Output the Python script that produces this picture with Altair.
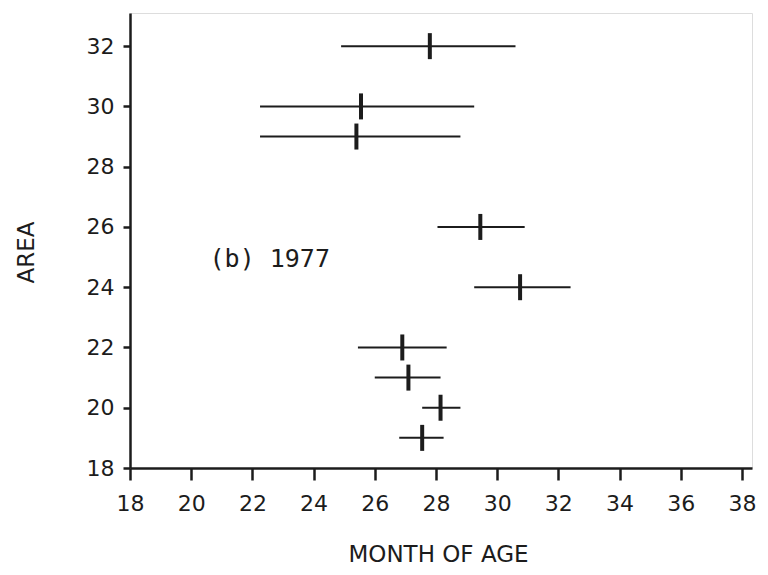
import altair as alt
import pandas as pd

area = [32, 30, 29, 26, 24, 22, 21, 20, 19]
mean_month = [27.8, 25.55, 25.4, 29.45, 30.75, 26.9, 27.1, 28.15, 27.55]
low_month = [24.9, 22.25, 22.25, 28.05, 29.25, 25.45, 26.0, 27.55, 26.8]
high_month = [30.6, 29.25, 28.8, 30.9, 32.4, 28.35, 28.15, 28.8, 28.25]

x_ticks = list(range(18, 39))
y_ticks = list(range(18, 33, 2))

df = pd.DataFrame({"area": area, "mean": mean_month, "low": low_month, "high": high_month})
ann = pd.DataFrame({"x": [20.6], "y": [24.95], "t": ["(b) 1977"]})

INK = "#1c1c1c"
FONT = "DejaVu Sans"

xscale = alt.Scale(domain=[18, 38.33], nice=False, zero=False)
yscale = alt.Scale(domain=[18, 33.1], nice=False, zero=False)

xaxis = alt.Axis(
    title="MONTH OF AGE", values=x_ticks, grid=False,
    labelExpr="datum.value % 2 == 0 ? datum.label : ''",
    tickSize=12, tickWidth=2.5, tickColor=INK, domainColor=INK, domainWidth=2.5,
    labelFont=FONT, labelFontSize=22, labelColor=INK, labelPadding=13,
    labelFlush=False, labelOverlap=False,
    titleFont=FONT, titleFontSize=23, titleFontWeight="normal", titleColor=INK,
    titleBaseline="middle", titleY=86, titleX=308, titleAnchor="middle",
)
yaxis = alt.Axis(
    title="AREA", values=y_ticks, grid=False,
    tickSize=7, tickWidth=2.5, tickColor=INK, domainColor=INK, domainWidth=2.5,
    labelFont=FONT, labelFontSize=22, labelColor=INK, labelPadding=9,
    labelFlush=False, labelOverlap=False,
    titleFont=FONT, titleFontSize=23, titleFontWeight="normal", titleColor=INK,
    titleAngle=270, titleBaseline="middle", titleAlign="center",
    titleX=-104, titleY=239,
)

bars = alt.Chart(df).mark_rule(color=INK, strokeWidth=2).encode(
    x=alt.X("low:Q", scale=xscale, axis=xaxis),
    x2="high:Q",
    y=alt.Y("area:Q", scale=yscale, axis=yaxis),
)
centers = alt.Chart(df).mark_tick(
    color=INK, orient="vertical", size=26, thickness=4, opacity=1
).encode(
    x=alt.X("mean:Q", scale=xscale),
    y=alt.Y("area:Q", scale=yscale),
)
label = alt.Chart(ann).mark_text(
    align="left", baseline="middle", font="DejaVu Sans Mono", fontSize=25, color=INK
).encode(
    x=alt.X("x:Q", scale=xscale),
    y=alt.Y("y:Q", scale=yscale),
    text="t:N",
)

chart = alt.layer(bars, centers, label).properties(
    width=622, height=455,
    autosize=alt.AutoSizeParams(type="none"),
    padding={"left": 122, "top": 5, "right": 8, "bottom": 98},
).configure_view(stroke=None).configure(background="white")

chart.save("out.html", embed_options={"renderer": "svg", "actions": False})
